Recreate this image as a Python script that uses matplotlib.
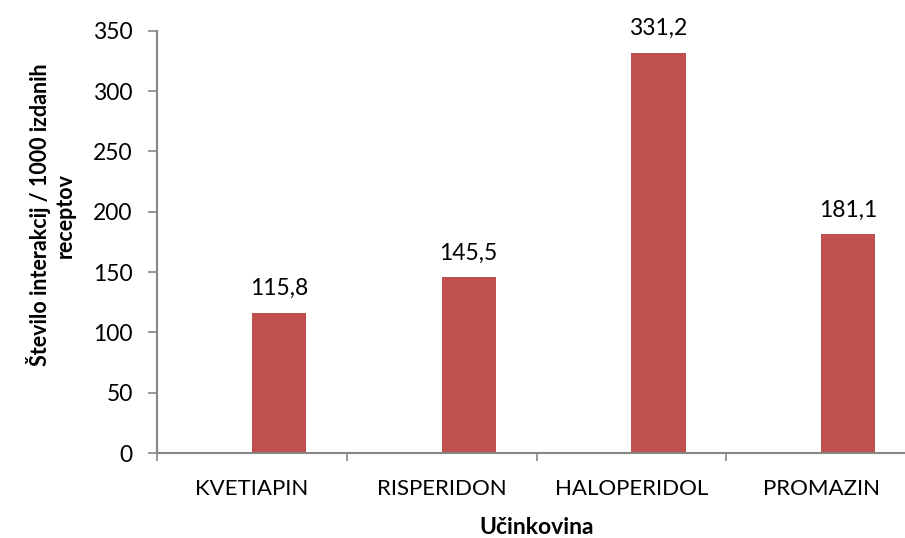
import matplotlib
matplotlib.use("Agg")
import matplotlib.pyplot as plt
import numpy as np

categories = ["KVETIAPIN", "RISPERIDON", "HALOPERIDOL", "PROMAZIN"]
values = [115.8, 145.5, 331.2, 181.1]
value_labels = ["115,8", "145,5", "331,2", "181,1"]
y_ticks = [0, 50, 100, 150, 200, 250, 300, 350]

plt.rcParams['font.family'] = ['Lato', 'DejaVu Sans']

W, H = 905, 538
fig = plt.figure(figsize=(W / 100, H / 100), dpi=100)
ax = fig.add_axes([157 / W, (H - 453) / H, (916 - 157) / W, (453 - 30.7) / H])

bar_color = "#C0504D"
spine_color = "#868686"
x = np.arange(len(categories))
bar_w = 1 / 3.5
ax.bar(x, values, width=bar_w, align='edge', color=bar_color, edgecolor='none')

for xi, v, lab in zip(x, values, value_labels):
    ax.annotate(lab, (xi + bar_w / 2, v), xytext=(0, 13), textcoords='offset points',
                ha='center', va='baseline', fontsize=16.5, color='#000000')

ax.set_xlim(-0.5, len(categories) - 0.5)
ax.set_ylim(0, 350)
ax.set_yticks(y_ticks)
ax.set_yticklabels([str(t) for t in y_ticks], fontsize=16.5)
ax.set_xticks(x)
ax.set_xticklabels(categories, fontsize=16)
ax.set_xticks(np.arange(-0.5, len(categories), 1.0), minor=True)

ax.tick_params(axis='x', which='major', length=0, pad=19)
ax.tick_params(axis='x', which='minor', length=6, width=1.2, color=spine_color, direction='out')
ax.tick_params(axis='y', length=6.5, width=1.2, color=spine_color, direction='out', pad=11)

for s in ['top', 'right']:
    ax.spines[s].set_visible(False)
for s in ['left', 'bottom']:
    ax.spines[s].set_color(spine_color)
    ax.spines[s].set_linewidth(1.5)

fig.text((157 + 916) / 2 / W, 1 - 528 / H, "Učinkovina", ha='center', va='center',
         fontsize=16.5, fontweight='bold')
fig.text(51 / W, 1 - 215 / H, "Število interakcij / 1000 izdanih\nreceptov", ha='center',
         va='center', rotation=90, fontsize=15.5, fontweight='bold', multialignment='center',
         linespacing=1.2)

fig.savefig("out.png", dpi=100)
